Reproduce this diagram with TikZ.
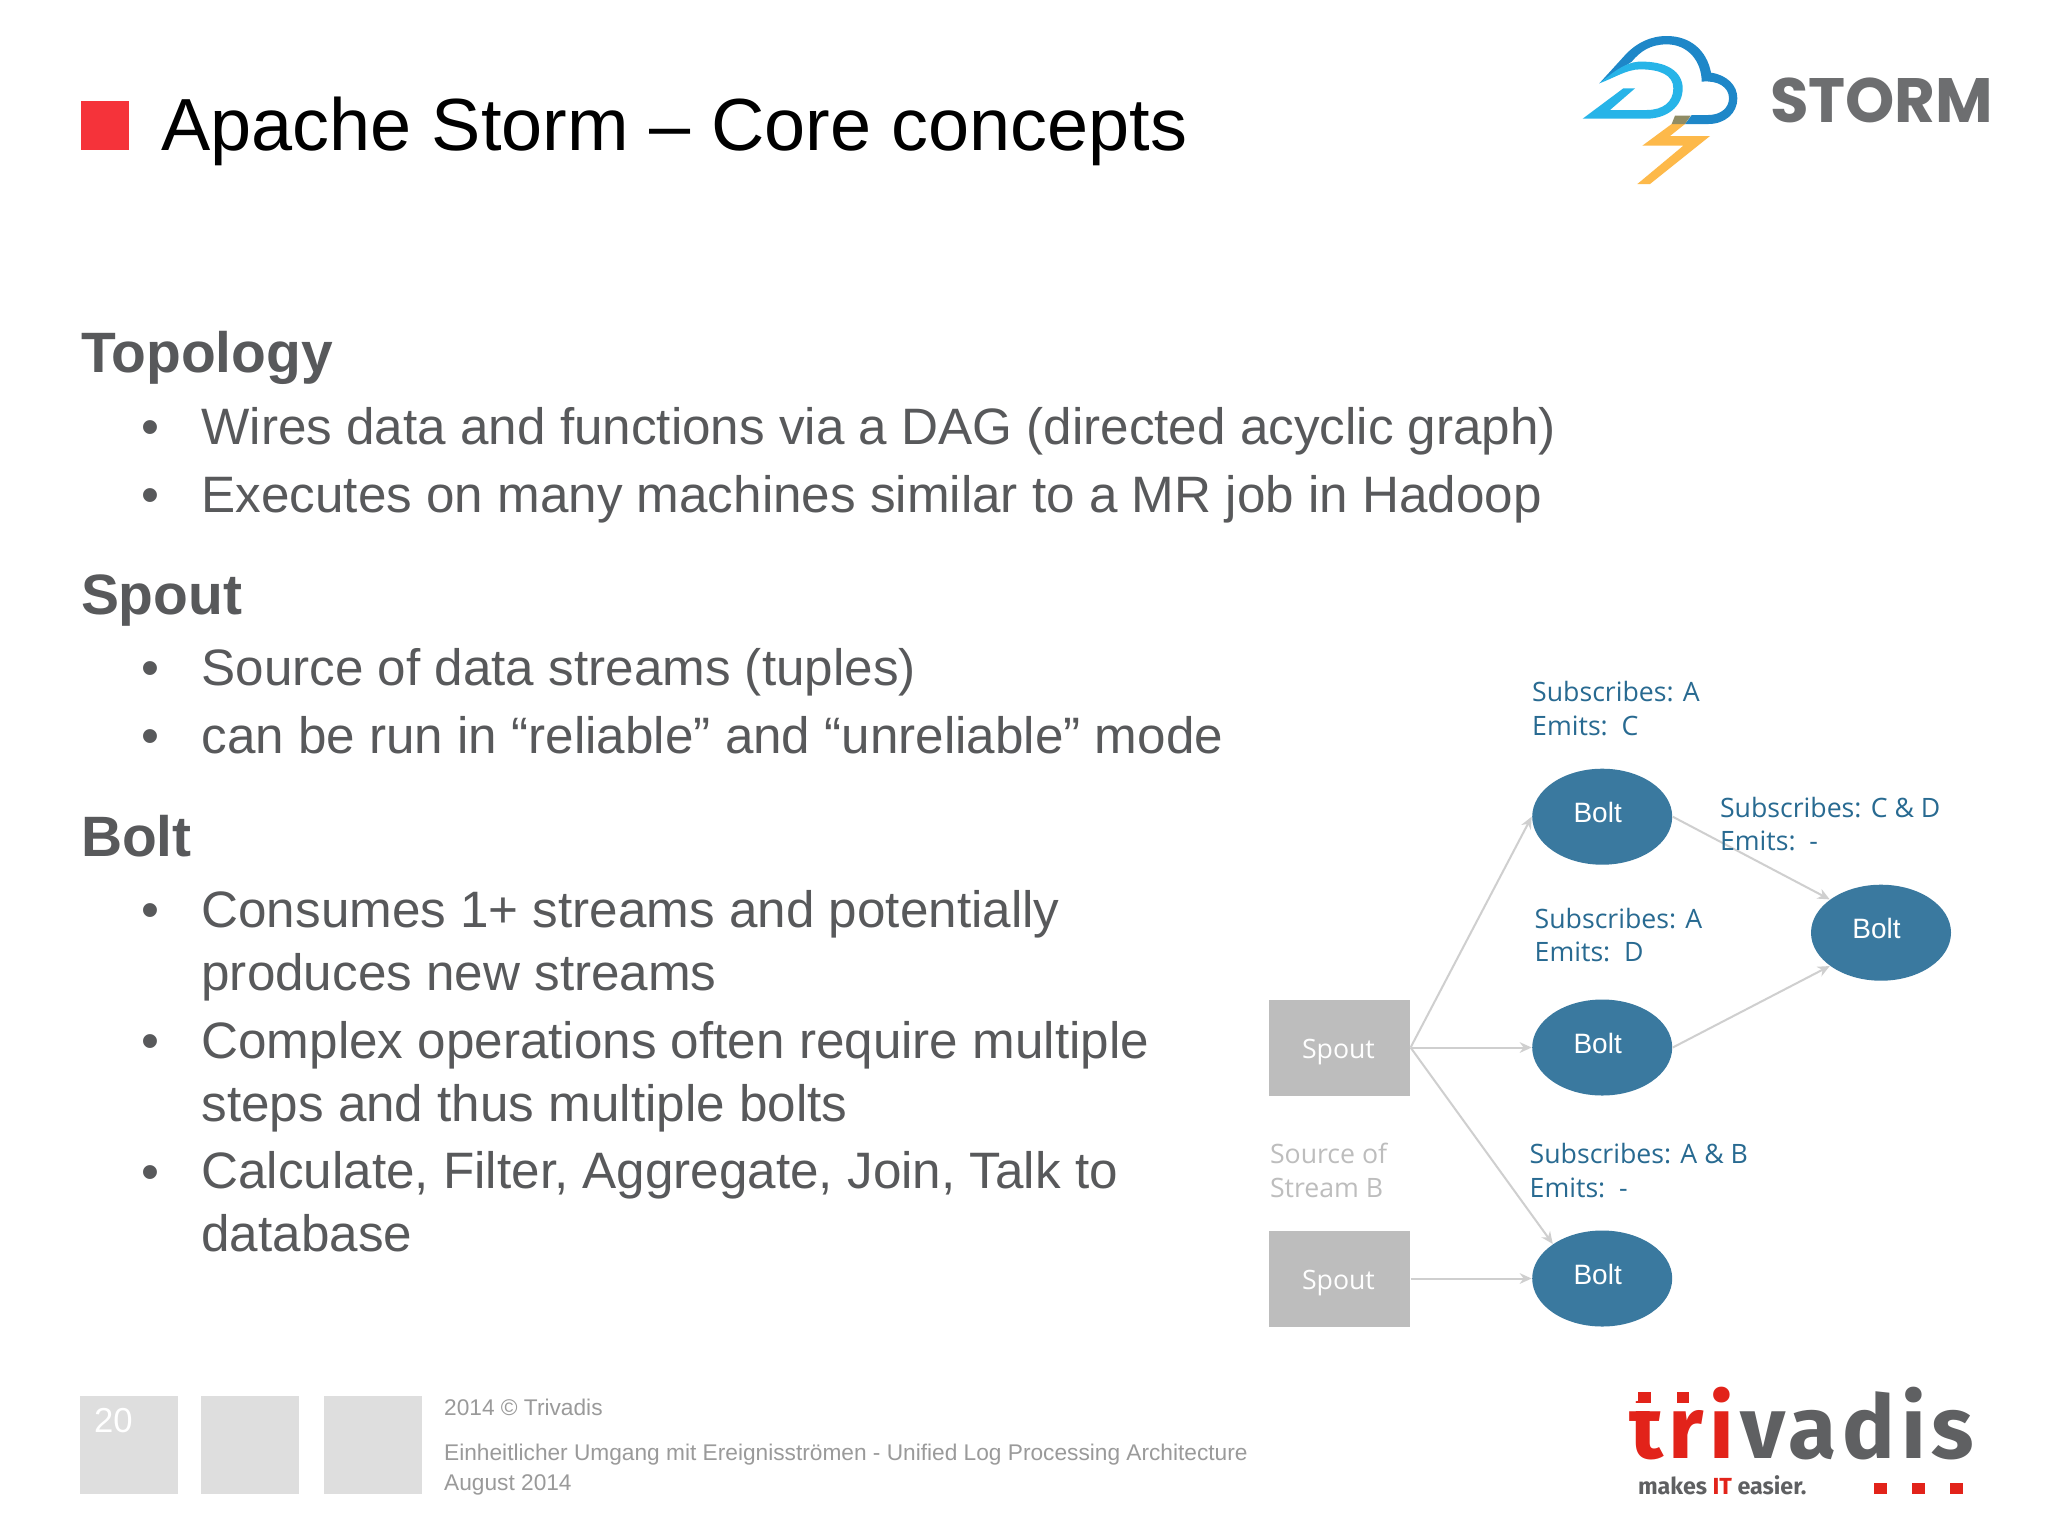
\documentclass[tikz,border=0pt]{standalone}
\usepackage{fontspec}
\setmainfont{Liberation Sans}
\newfontfamily\labelfont{Open Sans}
\newfontfamily\logofont{Fira Sans}
\newfontfamily\stormfont{Poppins}
\usetikzlibrary{shapes.geometric,arrows.meta}
\definecolor{slidegray}{HTML}{58595B}
\definecolor{slidered}{HTML}{F5333A}
\definecolor{boltblue}{HTML}{3A799F}
\definecolor{spoutgray}{HTML}{BDBDBD}
\definecolor{arrowgray}{HTML}{CFCFCF}
\definecolor{labelblue}{HTML}{286A91}
\definecolor{footgray}{HTML}{9A9A9A}
\definecolor{boxgray}{HTML}{DEDEDE}
\definecolor{darkcloud}{HTML}{1E87C8}
\definecolor{lightcloud}{HTML}{27B4E8}
\definecolor{flash}{HTML}{FDB94A}
\definecolor{triv}{HTML}{E2231A}
\definecolor{trivgray}{HTML}{5F6062}
\definecolor{stormgray}{HTML}{6D6E70}
\tikzset{
  txt/.style={anchor=base west,inner sep=0pt,outer sep=0pt},
  titletext/.style={txt,font=\fontsize{27.7}{32}\selectfont,text=black},
  head/.style={txt,font=\fontsize{21.35}{25}\bfseries\selectfont,text=slidegray},
  item/.style={txt,align=left,font=\fontsize{19.2}{23.6}\selectfont,text=slidegray},
  bul/.style={anchor=base,inner sep=0pt,font=\fontsize{19.2}{25}\selectfont,text=slidegray},
  boltshape/.style={ellipse,fill=boltblue,minimum width=52.5pt,minimum height=36pt,inner sep=0pt,text=white,font=\fontsize{10.5}{12}\selectfont},
  spoutshape/.style={rectangle,fill=spoutgray,minimum width=52.9pt,minimum height=36pt,inner sep=0pt,text=white,text depth=0pt,font=\labelfont\fontsize{10}{12}\selectfont},
  sublabel/.style={txt,align=left,font=\labelfont\fontsize{10}{12.6}\selectfont,text=labelblue},
  srclabel/.style={sublabel,text=spoutgray},
  conn/.style={draw=arrowgray,line width=0.75pt,-{Stealth[length=4.5pt,width=4pt]}},
  foot/.style={txt,font=\fontsize{8.51}{10}\selectfont,text=footgray},
  footbox/.style={rectangle,fill=boxgray,minimum width=36.8pt,minimum height=36.8pt,inner sep=0pt},
}
\newcommand{\bolttext}{\raisebox{3pt}{\hspace*{-3.4pt}Bolt}}
\newcommand{\spouttext}{\raisebox{-1pt}{\hspace*{-0.8pt}Spout}}
\begin{document}
\begin{tikzpicture}[x=0.375pt,y=-0.375pt]
\useasboundingbox (0,0) rectangle (2048,1536);
\fill[white] (0,0) rectangle (2048,1536);
% title
\fill[slidered] (81,101) rectangle (129,150);
\node[titletext] (title) at (161,150.5) {Apache Storm – Core concepts};
% body
\node[head] (h1) at (81,372.5) {Topology};
\node[bul] (b11) at (150,444.5) {•};
\node[item] (i11) at (201.5,444.5) {Wires data and functions via a DAG (directed acyclic graph)};
\node[bul] (b12) at (150,512.5) {•};
\node[item] (i12) at (201.5,512.5) {Executes on many machines similar to a MR job in Hadoop};
\node[head] (h2) at (81,614.5) {Spout};
\node[bul] (b21) at (150,685.5) {•};
\node[item] (i21) at (201.5,685.5) {Source of data streams (tuples)};
\node[bul] (b22) at (150,753.5) {•};
\node[item] (i22) at (201.5,753.5) {can be run in “reliable” and “unreliable” mode};
\node[head] (h3) at (81,856) {Bolt};
\node[bul] (b31) at (150,927.5) {•};
\node[item] (i31) at (201.5,990.5) {Consumes 1+ streams and potentially\\produces new streams};
\node[bul] (b32) at (150,1058.5) {•};
\node[item] (i32) at (201.5,1121.5) {Complex operations often require multiple\\steps and thus multiple bolts};
\node[bul] (b33) at (150,1189.5) {•};
\node[item] (i33) at (201.5,1251.5) {Calculate, Filter, Aggregate, Join, Talk to\\database};
% diagram
\node[spoutshape] (s1) at (1339.5,1047.5) {\spouttext};
\node[spoutshape] (s2) at (1339.5,1278.5) {\spouttext};
\node[boltshape] (n1) at (1602.2,816.7) {\bolttext};
\node[boltshape] (n2) at (1602.2,1047.5) {\bolttext};
\node[boltshape] (n3) at (1602.2,1278.5) {\bolttext};
\node[boltshape] (n4) at (1881,932.7) {\bolttext};
\draw[conn] (s1.east) -- (n1.west);
\draw[conn] (s1.east) -- (n2.west);
\draw[conn] (s1.east) -- (n3.145);
\draw[conn] (s2.east) -- (n3.west);
\draw[conn] (n1.east) -- (n4.147);
\draw[conn] (n2.east) -- (n4.213);
\node[sublabel] (l1) at (1532.2,735.5) {Subscribes: A\\Emits:\ \ C};
\node[sublabel] (l2) at (1720,850.7) {Subscribes: C \& D\\Emits:\ \ -};
\node[sublabel] (l3) at (1534.7,961.7) {Subscribes: A\\Emits:\ \ D};
\node[sublabel] (l4) at (1529.7,1197.4) {Subscribes: A \& B\\Emits:\ \ -};
\node[srclabel] (l5) at (1270,1197.4) {Source of\\Stream B};
% footer
\node[footbox] (f1) at (129,1445) {};
\node[footbox] (f2) at (250.2,1445) {};
\node[footbox] (f3) at (373.2,1445) {};
\node[txt,text=white,font=\fontsize{13}{15}\selectfont] (pg) at (94,1432) {20};
\node[foot] (ft1) at (444.2,1415) {2014 © Trivadis};
\node[foot] (ft2) at (444.2,1460) {Einheitlicher Umgang mit Ereignisströmen - Unified Log Processing Architecture};
\node[foot] (ft3) at (444.2,1490) {August 2014};
% storm logo
\begin{scope}[shift={(1560,0)},x=0.125pt,y=-0.125pt]
\fill[darkcloud] (118,250) -- (200,160) .. controls (230,130) and (270,108) .. (320,108) .. controls (390,108) and (440,150) .. (453,218) .. controls (500,225) and (532,255) .. (532,295) .. controls (532,340) and (495,372) .. (445,372) -- (375,372) -- (395,345) -- (445,345) .. controls (480,345) and (507,325) .. (507,295) .. controls (507,262) and (475,240) .. (425,245) .. controls (425,185) and (385,133) .. (320,133) .. controls (270,133) and (240,155) .. (215,185) -- cycle;
\fill[lightcloud] (118,250) .. controls (150,225) and (190,188) .. (235,185) .. controls (320,182) and (368,215) .. (368,265) .. controls (368,320) and (320,356) .. (260,356) -- (68,356) -- (190,265) -- (225,265) -- (150,330) -- (260,330) .. controls (310,330) and (340,305) .. (340,265) .. controls (340,225) and (300,208) .. (240,208) .. controls (200,208) and (160,235) .. (118,250) -- cycle;
\fill[flash] (335,372) -- (375,372) -- (330,408) -- (450,408) -- (270,552) -- (232,552) -- (370,437) -- (247,437) -- cycle;
\fill[gray!70!olive] (345,347) -- (392,347) -- (375,372) -- (335,372) -- cycle;
\end{scope}
\node[txt,text=stormgray,font=\stormfont\bfseries\fontsize{23.5}{28}\selectfont] (storm) at (1770,122.7) {STORM};
% trivadis logo
\node[txt,text=triv,font=\logofont\bfseries\fontsize{33}{36}\selectfont] (tri) at (1629,1458) {\addfontfeature{LetterSpace=6.5}tri};
\node[txt,text=trivgray,font=\logofont\bfseries\fontsize{33}{36}\selectfont] (vadis) at (1740,1458) {\addfontfeature{LetterSpace=6.5}vadis};
\begin{scope}[shift={(1600,1370)},x=0.125pt,y=-0.125pt]
\fill[white] (100,100) rectangle (170,122);
\fill[triv] (115,65) rectangle (152,100);
\fill[triv] (230,65) rectangle (267,100);
\fill[triv] (822,338) rectangle (860,373);
\fill[triv] (937,338) rectangle (975,373);
\fill[triv] (1050,338) rectangle (1088,373);
\end{scope}
\node[txt,text=trivgray,font=\logofont\bfseries\fontsize{8.73}{11}\selectfont] (tag) at (1638,1494) {makes \textcolor{triv}{IT} easier.};
\end{tikzpicture}
\end{document}
